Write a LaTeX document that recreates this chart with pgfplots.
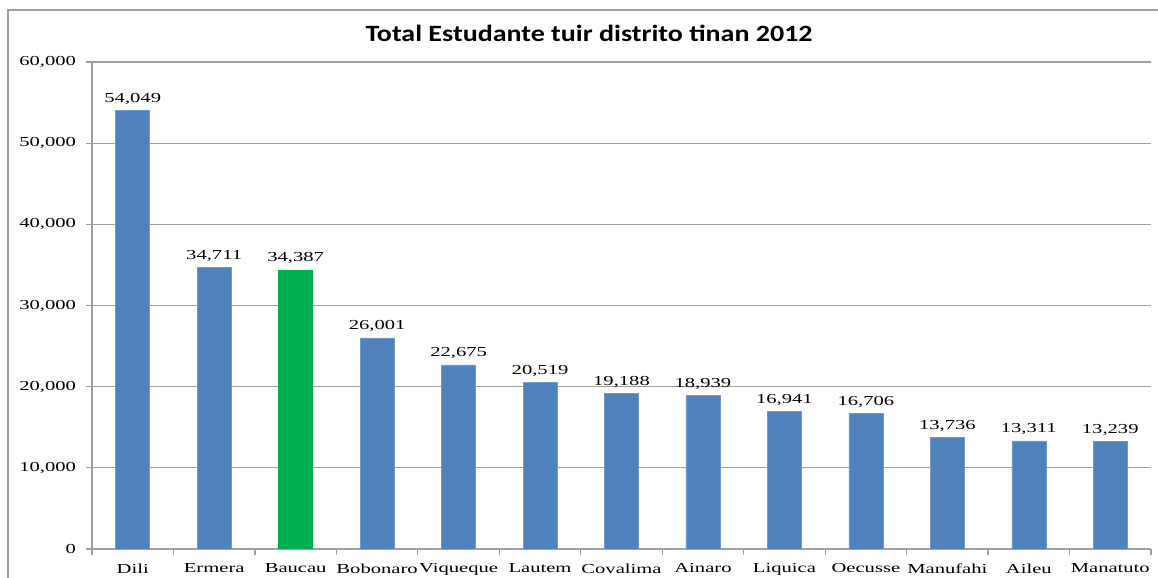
\documentclass[border=0pt]{standalone}
\usepackage{fontspec}
\setmainfont{Liberation Serif}[FakeStretch=1.5]
\newfontfamily\titlefont{Carlito}[FakeStretch=1.2]
\usepackage{pgfplots}
\usepackage{pgfplotstable}
\pgfplotsset{compat=1.18}

\definecolor{barblue}{HTML}{4F81BD}
\definecolor{bargreen}{HTML}{00B050}
\definecolor{axgray}{HTML}{A0A0A0}

% distritu, estudante
\pgfplotstableread{
x value
0 54049
1 34711
3 26001
4 22675
5 20519
6 19188
7 18939
8 16941
9 16706
10 13736
11 13311
12 13239
}\bluedata
\pgfplotstableread{
x value
2 34387
}\greendata

\begin{document}
\begin{tikzpicture}
% moldura
\path[use as bounding box] (0,0) rectangle (868.5pt,433.5pt);
\draw[axgray, line width=0.9pt] (6pt,0) -- (6pt,426pt) -- (868.5pt,426pt);
\node[font=\titlefont\bfseries\fontsize{17.5}{20}\selectfont] at (441.75pt,408.75pt) {Total Estudante tuir distrito tinan 2012};

\begin{axis}[
  at={(69pt,21.75pt)}, anchor=south west,
  scale only axis, width=794.25pt, height=365.25pt,
  ybar, bar width=25.5pt, bar shift=0pt,
  xmin=-0.5, xmax=12.5, ymin=0, ymax=60000,
  axis x line*=bottom, axis y line*=left,
  axis line style={axgray, line width=0.9pt},
  xtick={0,...,12},
  xticklabels={Dili,Ermera,Baucau,Bobonaro,Viqueque,Lautem,Covalima,Ainaro,Liquica,Oecusse,Manufahi,Aileu,Manatuto},
  minor xtick={-0.5,0.5,...,12.5},
  major x tick style={draw=none},
  minor x tick style={axgray, line width=0.9pt},
  ytick={0,10000,...,60000},
  y tick style={axgray, line width=0.9pt},
  tick align=outside, major tick length=4.5pt, minor tick length=4.5pt,
  ymajorgrids, grid style={axgray, line width=0.9pt},
  scaled y ticks=false,
  /pgf/number format/.cd, 1000 sep={,}, assume math mode=true, /pgfplots/.cd,
  tick label style={font=\fontsize{10.3}{12}\selectfont},
  xticklabel style={yshift=-3pt},
  yticklabel style={xshift=-4pt},
  nodes near coords,
  every node near coord/.append style={font=\fontsize{10.3}{12}\selectfont, black, yshift=1pt},
]
\addplot[fill=barblue, draw=barblue!80!white] table[x=x, y=value] {\bluedata};
\addplot[fill=bargreen, draw=bargreen] table[x=x, y=value] {\greendata};
\end{axis}
\end{tikzpicture}
\end{document}
